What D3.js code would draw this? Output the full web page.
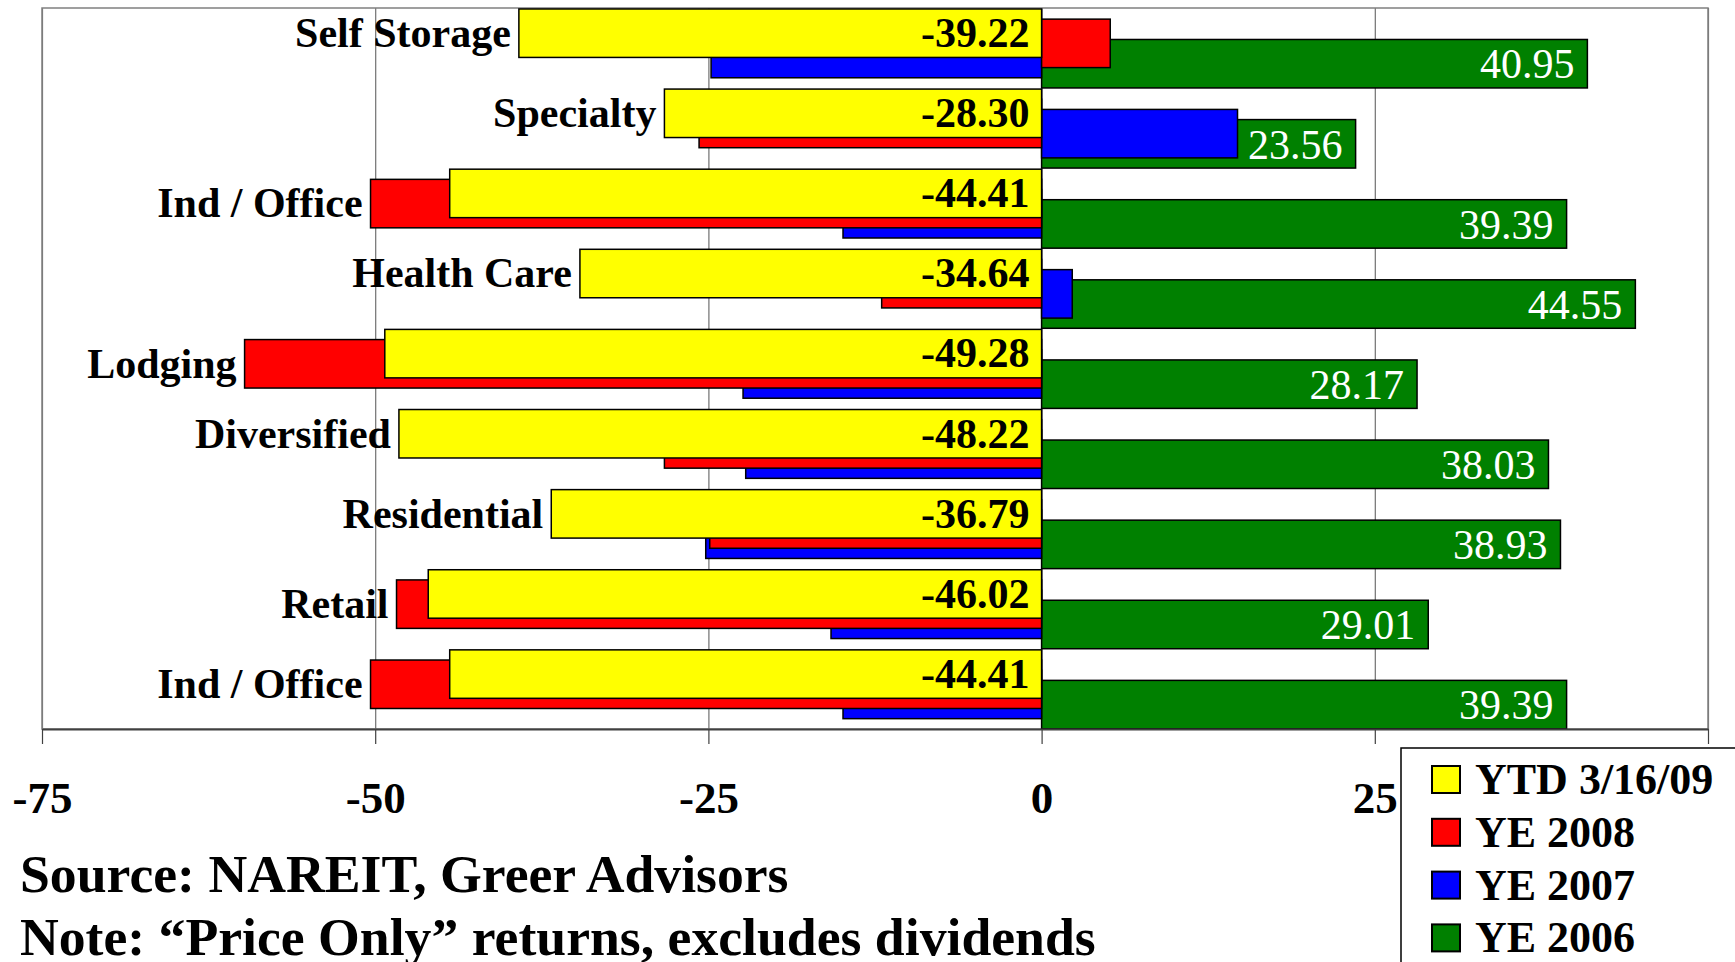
<html>
<head>
    <meta charset="utf-8">
    <title>REIT returns by sector</title>
    <script src="https://d3js.org/d3.v7.min.js"></script>
    <style>
        body { margin: 0; background: #fff; }
        svg { display: block; }
        text { font-family: "Liberation Serif", "Times New Roman", serif; }
        .bar { stroke: #000; stroke-width: 1.5; }
    </style>
</head>
<body>
    <svg id="chart"></svg>
    <script>
        // values (YE 2008 / YE 2007 have no labels, so estimated)
        var categories = ["Self Storage", "Specialty", "Ind / Office", "Health Care", "Lodging",
                          "Diversified", "Residential", "Retail", "Ind / Office"];
        var seriesNames = ["YTD 3/16/09", "YE 2008", "YE 2007", "YE 2006"];
        var seriesColors = ["#ffff00", "#ff0000", "#0000ff", "#008000"];
        var ytd = [-39.22, -28.30, -44.41, -34.64, -49.28, -48.22, -36.79, -46.02, -44.41];
        var ye2008 = [5.15, -25.7, -50.35, -12.0, -59.8, -28.3, -24.9, -48.4, -50.35];
        var ye2007 = [-24.8, 14.7, -14.9, 2.3, -22.4, -22.2, -25.2, -15.8, -14.9];
        var ye2006 = [40.95, 23.56, 39.39, 44.55, 28.17, 38.03, 38.93, 29.01, 39.39];
        var xTicks = [-75, -50, -25, 0, 25, 50];
        var notes = ["Source: NAREIT, Greer Advisors",
                     "Note: \u201cPrice Only\u201d returns, excludes dividends"];

        var series = [ytd, ye2008, ye2007, ye2006];
        var width = 1735, height = 962;
        var plotLeft = 42, plotRight = 1708, plotTop = 8, plotBottom = 729;

        var svg = d3.select("#chart").attr("width", width).attr("height", height);

        var x = d3.scaleLinear().domain([-75, 50]).range([plotLeft, plotRight]);
        var y = d3.scaleBand().domain(d3.range(categories.length)).range([plotTop, plotBottom]);
        var bw = y.bandwidth();
        var barH = bw * 0.605;
        var sy = d3.scaleLinear().domain([0, 3]).range([bw * 0.012, bw * 0.012 + 3 * bw * 0.127]);
        var fmt = function (d) { return d.toFixed(2); };

        // gridlines
        svg.append("g")
            .attr("transform", "translate(0," + plotBottom + ")")
            .call(d3.axisBottom(x).tickValues(xTicks).tickSize(-(plotBottom - plotTop)).tickFormat(""))
            .call(function (g) {
                g.select(".domain").remove();
                g.selectAll("line").attr("stroke", "#707070").attr("stroke-width", 1.2);
            });

        // plot frame
        svg.append("rect")
            .attr("x", plotLeft).attr("y", plotTop)
            .attr("width", plotRight - plotLeft).attr("height", plotBottom - plotTop)
            .attr("fill", "none").attr("stroke", "#808080").attr("stroke-width", 1.5);

        // bars, drawn back to front: YE 2006 first, YTD last
        for (var s = series.length - 1; s >= 0; s--) {
            svg.append("g").selectAll("rect")
                .data(series[s])
                .enter()
                .append("rect")
                .attr("class", "bar")
                .attr("fill", seriesColors[s])
                .attr("x", function (d) { return x(Math.min(0, d)); })
                .attr("width", function (d) { return Math.abs(x(d) - x(0)); })
                .attr("y", function (d, i) { return y(i) + sy(s); })
                .attr("height", barH);
        }

        // YTD value labels (inside, next to zero)
        svg.append("g").selectAll("text")
            .data(ytd)
            .enter()
            .append("text")
            .attr("x", x(0) - 12)
            .attr("y", function (d, i) { return y(i) + sy(0) + barH / 2; })
            .attr("dy", "0.33em")
            .attr("text-anchor", "end")
            .attr("font-size", 42)
            .attr("font-weight", "bold")
            .text(fmt);

        // YE 2006 value labels (inside end)
        svg.append("g").selectAll("text")
            .data(ye2006)
            .enter()
            .append("text")
            .attr("x", function (d) { return x(d) - 13; })
            .attr("y", function (d, i) { return y(i) + sy(3) + barH / 2; })
            .attr("dy", "0.35em")
            .attr("text-anchor", "end")
            .attr("font-size", 42)
            .attr("fill", "#fff")
            .text(fmt);

        // category labels sit left of the most negative bar
        svg.append("g").selectAll("text")
            .data(categories)
            .enter()
            .append("text")
            .attr("x", function (d, i) {
                var m = d3.min(series, function (v) { return v[i]; });
                return x(m) - 8;
            })
            .attr("y", function (d, i) {
                var vals = series.map(function (v) { return v[i]; });
                return y(i) + sy(d3.minIndex(vals)) + barH / 2;
            })
            .attr("dy", "0.33em")
            .attr("text-anchor", "end")
            .attr("font-size", 42)
            .attr("font-weight", "bold")
            .text(function (d) { return d; });

        // x axis
        svg.append("g")
            .attr("transform", "translate(0," + plotBottom + ")")
            .call(d3.axisBottom(x).tickValues(xTicks).tickSize(15).tickSizeOuter(0).tickPadding(37)
                .tickFormat(function (d) { return String(d); }))
            .call(function (g) {
                g.select(".domain").attr("stroke", "#404040").attr("stroke-width", 2);
                g.selectAll("line").attr("stroke", "#404040").attr("stroke-width", 1.2);
                g.selectAll("text")
                    .attr("font-family", "'Liberation Serif', 'Times New Roman', serif")
                    .attr("font-size", 45)
                    .attr("font-weight", "bold")
                    .attr("fill", "#000");
            });

        // legend (covers the last tick label, as in the original)
        var legend = svg.append("g").attr("transform", "translate(1401,748)");
        legend.append("rect")
            .attr("width", 400).attr("height", 300)
            .attr("fill", "#fff").attr("stroke", "#000").attr("stroke-width", 1.5);
        var item = legend.selectAll("g.item")
            .data(seriesNames)
            .enter()
            .append("g")
            .attr("class", "item")
            .attr("transform", function (d, i) { return "translate(31," + (18 + i * 52.8) + ")"; });
        item.append("rect")
            .attr("width", 28).attr("height", 27)
            .attr("fill", function (d, i) { return seriesColors[i]; })
            .attr("stroke", "#000").attr("stroke-width", 2);
        item.append("text")
            .attr("x", 43).attr("y", 28)
            .attr("font-size", 44)
            .attr("font-weight", "bold")
            .text(function (d) { return d; });

        // footnotes
        svg.append("g").selectAll("text")
            .data(notes)
            .enter()
            .append("text")
            .attr("x", 20)
            .attr("y", function (d, i) { return 892 + i * 63; })
            .attr("font-size", 53.7)
            .attr("font-weight", "bold")
            .text(function (d) { return d; });
    </script>
</body>
</html>
